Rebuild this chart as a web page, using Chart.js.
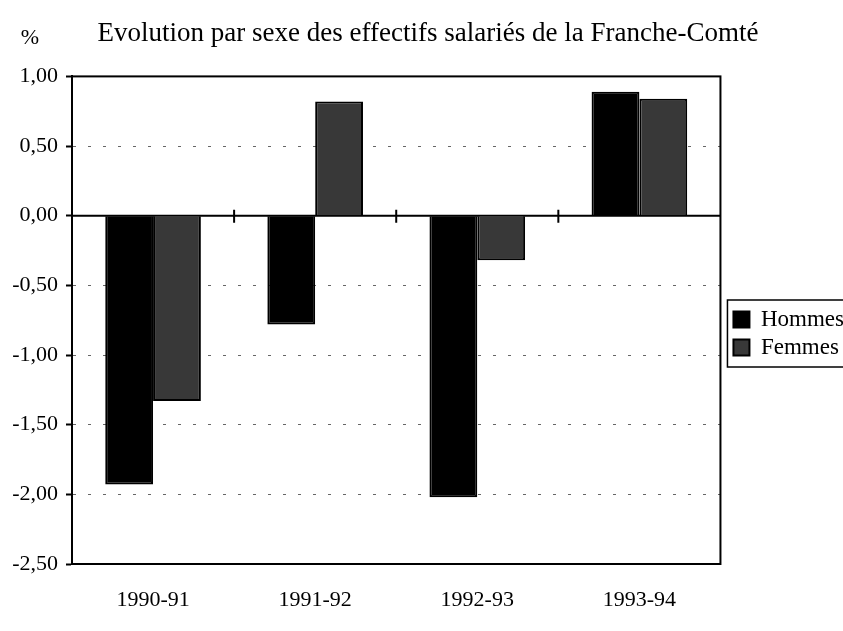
<!DOCTYPE html>
<html>
<head>
<meta charset="utf-8">
<script src="https://cdn.jsdelivr.net/npm/chart.js@4/dist/chart.umd.min.js"></script>
<style>
  html, body { margin: 0; padding: 0; background: #fff; }
  #cont { width: 843px; height: 631px; }
</style>
</head>
<body>
<div id="cont"><canvas id="grafica"></canvas></div>
<script>
// Données (%)
var categories = ["1990-91", "1991-92", "1992-93", "1993-94"];
var hommes = [-1.93, -0.78, -2.02, 0.89];
var femmes = [-1.33, 0.82, -0.32, 0.84];
var titre = "Evolution par sexe des effectifs salariés de la Franche-Comté";
var unite = "%";

var police = '"Liberation Serif", "Times New Roman", serif';

function formatVirgule(v) {
    return Number(v).toFixed(2).replace(".", ",");
}

// cadre, ligne du zéro, petits traits de séparation, cadre de légende, unité
var decor = {
    id: "decor",
    afterLayout: function(chart) {
        var l = chart.legend;
        l.top += 18;
        l.bottom += 18;
        l.left += 8;
        l.right += 8;
    },
    beforeDatasetsDraw: function(chart) {
        var ctx = chart.ctx;
        var y = chart.scales.y;
        var x = chart.scales.x;
        var zero = y.getPixelForValue(0);
        ctx.save();
        ctx.strokeStyle = "#000";
        ctx.lineWidth = 2;
        ctx.beginPath();
        ctx.moveTo(chart.chartArea.left, zero);
        ctx.lineTo(chart.chartArea.right, zero);
        for (var i = 0; i < categories.length - 1; i++) {
            var px = (x.getPixelForValue(i) + x.getPixelForValue(i + 1)) / 2;
            ctx.moveTo(px, zero - 6);
            ctx.lineTo(px, zero + 7);
        }
        ctx.stroke();
        ctx.restore();
    },
    afterDraw: function(chart) {
        var ctx = chart.ctx;
        var a = chart.chartArea;
        ctx.save();
        ctx.strokeStyle = "#000";
        ctx.lineWidth = 2;
        ctx.strokeRect(a.left, a.top, a.right - a.left, a.bottom - a.top);

        var boites = chart.legend.legendHitBoxes;
        if (boites && boites.length) {
            var g = boites[0].left - 6;
            var h = boites[0].top - 8;
            var b = boites[boites.length - 1].top + boites[boites.length - 1].height + 8;
            ctx.lineWidth = 1.5;
            ctx.strokeRect(g, h, 860 - g, b - h);
        }

        ctx.fillStyle = "#000";
        ctx.font = "22px " + police;
        ctx.textAlign = "center";
        ctx.textBaseline = "middle";
        ctx.fillText(unite, 30, 38);
        ctx.restore();
    }
};

var config = {
    type: "bar",
    data: {
        labels: categories,
        datasets: [
            { label: "Hommes", data: hommes, backgroundColor: "#000", borderColor: "#000", borderWidth: 2 },
            { label: "Femmes", data: femmes, backgroundColor: "#383838", borderColor: "#000", borderWidth: 2 }
        ]
    },
    options: {
        responsive: true,
        maintainAspectRatio: false,
        animation: false,
        categoryPercentage: 0.59,
        barPercentage: 1,
        layout: { padding: { left: 10, right: -3, top: 0, bottom: 0 } },
        plugins: {
            title: {
                display: true,
                text: titre,
                color: "#000",
                font: { family: police, size: 27, weight: "normal" },
                padding: { top: 18, bottom: 26 }
            },
            legend: {
                position: "right",
                align: "center",
                labels: {
                    color: "#000",
                    font: { family: police, size: 23 },
                    boxWidth: 16,
                    boxHeight: 16,
                    padding: 5
                }
            },
            tooltip: { enabled: false }
        },
        scales: {
            x: {
                afterFit: function(scale) { scale.height = 67; },
                grid: { display: false, drawTicks: false },
                border: { display: false },
                ticks: {
                    color: "#000",
                    font: { family: police, size: 22 },
                    padding: 23,
                    maxRotation: 0
                }
            },
            y: {
                min: -2.5,
                max: 1,
                afterFit: function(scale) { scale.width = 62; },
                ticks: {
                    stepSize: 0.5,
                    color: "#000",
                    font: { family: police, size: 22 },
                    padding: 8,
                    callback: function(v) { return formatVirgule(v); }
                },
                grid: {
                    color: "#666",
                    lineWidth: 1,
                    tickColor: "#000",
                    tickLength: 6,
                    tickWidth: 2,
                    tickBorderDash: []
                },
                border: { display: true, color: "#000", width: 2, dash: [3, 12] }
            }
        }
    },
    plugins: [decor]
};

var grafica = new Chart(document.getElementById("grafica"), config);
</script>
</body>
</html>
